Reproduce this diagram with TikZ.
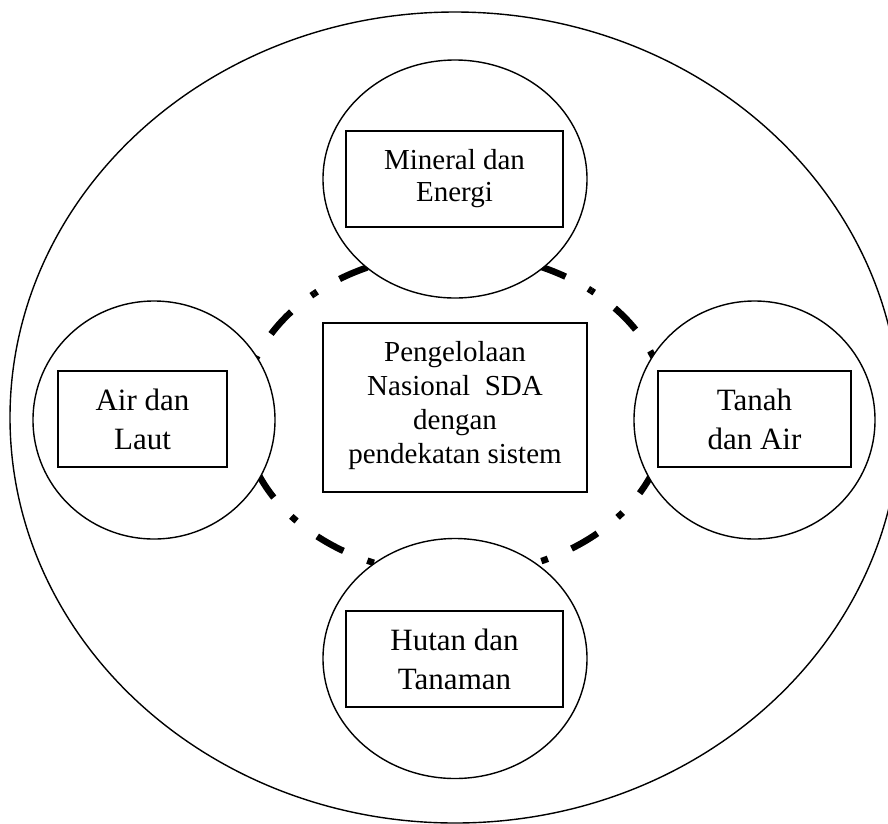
\documentclass[tikz,border=0pt]{standalone}
\usepackage{fontspec}
\setmainfont{Liberation Serif}
\usetikzlibrary{shapes.geometric}
\begin{document}
\begin{tikzpicture}[x=1pt,y=-1pt,
  thinline/.style={line width=1.4pt},
  disc/.style={draw, ellipse, line width=1.4pt, fill=white, inner sep=0pt},
  box/.style={draw, rectangle, line width=1.3pt, fill=white, inner sep=0pt},
  dashdot/.style={line width=6.5pt, dash pattern=on 7pt off 25.77pt on 30pt off 25.77pt, dash phase=3.5pt},
  bigtext/.style={anchor=base, font=\fontsize{31pt}{39pt}\selectfont, inner sep=0pt},
  smalltext/.style={anchor=base, font=\fontsize{29pt}{34pt}\selectfont, inner sep=0pt},
]
\useasboundingbox (0,0) rectangle (888,823);
\clip (0,0) rectangle (888,823);
% outer ellipse
\node[draw, ellipse, line width=1.4pt, inner sep=0pt, minimum width=890pt, minimum height=811pt] (outer) at (455,417.5) {};
% dash-dot ellipse
\begin{scope}[shift={(455,414)}]
  \draw[dashdot] (50:212pt and 161pt) arc[start angle=50, end angle=-228.4, x radius=212pt, y radius=161pt];
  \draw[dashdot] (131.6:212pt and 161pt) arc[start angle=131.6, end angle=90, x radius=212pt, y radius=161pt];
  \draw[dashdot] (50:212pt and 161pt) arc[start angle=50, end angle=90, x radius=212pt, y radius=161pt];
\end{scope}
% circles
\node[disc, minimum width=264pt, minimum height=238pt] (ctop) at (455,179) {};
\node[disc, minimum width=242pt, minimum height=238pt] (cleft) at (154,420) {};
\node[disc, minimum width=241pt, minimum height=238pt] (cright) at (754.5,420) {};
\node[disc, minimum width=264pt, minimum height=240pt] (cbot) at (455,658.5) {};
% boxes
\node[box, minimum width=217pt, minimum height=96pt] (rtop) at (454.5,179) {};
\node[box, minimum width=169pt, minimum height=96pt] (rleft) at (142.5,419) {};
\node[box, minimum width=264pt, minimum height=169pt] (rmid) at (455,407.5) {};
\node[box, minimum width=193pt, minimum height=96pt] (rright) at (754.5,419) {};
\node[box, minimum width=217pt, minimum height=96pt] (rbot) at (454.5,659) {};
% texts
\node[smalltext] (t1a) at (454.5,169.3) {Mineral dan};
\node[smalltext] (t1b) at (454.5,201.7) {Energi};
\node[smalltext] (t2a) at (455,361) {Pengelolaan};
\node[smalltext] (t2b) at (455,395) {Nasional\ \ SDA};
\node[smalltext] (t2c) at (455,429) {dengan};
\node[smalltext] (t2d) at (455,463) {pendekatan sistem};
\node[bigtext] (t3a) at (142.5,410.7) {Air dan};
\node[bigtext] (t3b) at (142.5,449.3) {Laut};
\node[bigtext] (t4a) at (754.5,410.7) {Tanah};
\node[bigtext] (t4b) at (754.5,449) {dan Air};
\node[bigtext] (t5a) at (454.5,650) {Hutan dan};
\node[bigtext] (t5b) at (454.5,689.3) {Tanaman};
\end{tikzpicture}
\end{document}
